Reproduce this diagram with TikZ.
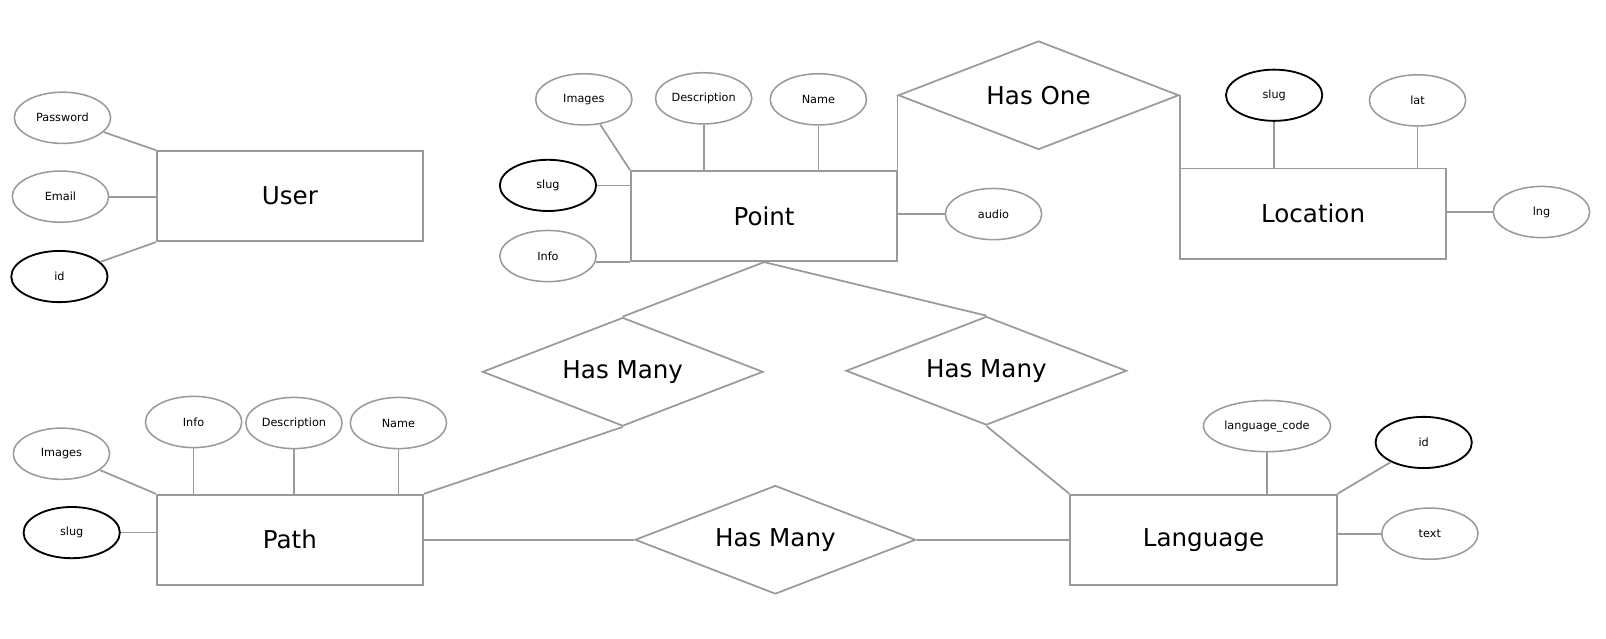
\documentclass[tikz,border=0pt]{standalone}
\usepackage{fontspec}
\setmainfont{DejaVu Sans}
\usetikzlibrary{shapes.geometric}
\definecolor{lg}{HTML}{9A9A9A}
\begin{document}
\begin{tikzpicture}[x=1pt,y=-1pt,
 ln/.style={draw=lg, line width=1.7pt},
 ent/.style={rectangle, draw=lg, line width=1.8pt, minimum width=260pt, minimum height=88pt, inner sep=0pt, font=\fontsize{24}{28}\selectfont},
 attr/.style={ellipse, draw=lg, line width=1.5pt, minimum width=94pt, minimum height=50pt, inner sep=0pt, font=\fontsize{11}{13}\selectfont},
 keyattr/.style={attr, draw=black, line width=1.8pt},
 rel/.style={diamond, aspect=2.58, draw=lg, line width=1.7pt, minimum width=274pt, minimum height=106pt, inner sep=0pt, font=\fontsize{24}{28}\selectfont}]
\useasboundingbox (0,0) rectangle (1568,623);

% User
\node[ent] (U) at (283,191.5) {User};
\node[attr] (Upw) at (61,115) {Password};
\node[attr] (Uem) at (59,192) {Email};
\node[keyattr] (Uid) at (58,270) {id};
\draw[ln] (Upw) -- (U.north west);
\draw[ln] (Uem.east) -- (Uem.east -| U.west);
\draw[ln] (Uid) -- (U.south west);

% Point
\node[ent] (P) at (746,211) {Point};
\node[attr] (Pim) at (570,97) {Images};
\node[attr] (Pde) at (687,96) {Description};
\node[attr] (Pna) at (799,97) {Name};
\node[keyattr] (Psl) at (535,181) {slug};
\node[attr] (Pin) at (535,250) {Info};
\node[attr] (Pau) at (970,209) {audio};
\draw[ln] (Pim) -- (P.north west);
\draw[ln] (Pde.south) -- (Pde.south |- P.north);
\draw[ln] (Pna.south) -- (Pna.south |- P.north);
\draw[ln] (Psl.east) -- (Psl.east -| P.west);
\draw[ln] (P.south west) -- ([xshift=-1pt]P.south west -| Pin.east);
\draw[ln] (P.east |- Pau.west) -- (Pau.west);

% Has One
\node[rel] (HO) at (1014,93) {Has One};
\draw[ln] (HO.west) -- (HO.west |- P.north east);

% Location
\node[ent] (L) at (1282,208.5) {Location};
\node[keyattr] (Lsl) at (1244,93) {slug};
\node[attr] (Lla) at (1384,98) {lat};
\node[attr] (Lln) at (1505,207) {lng};
\draw[ln] (HO.east) -- (HO.east |- L.north west);
\draw[ln] (Lsl.south) -- (Lsl.south |- L.north);
\draw[ln] (Lla.south) -- (Lla.south |- L.north);
\draw[ln] (L.east |- Lln.west) -- (Lln.west);

% Relationships
\node[rel] (HM1) at (608,363) {Has Many};
\node[rel] (HM2) at (963,362) {Has Many};
\node[rel] (HM3) at (757,527) {Has Many};

% Path
\node[ent] (Pa) at (283,527) {Path};
\node[attr] (Paim) at (60,443) {Images};
\node[attr] (Pain) at (189,412) {Info};
\node[attr] (Pade) at (287,413) {Description};
\node[attr] (Pana) at (389,413) {Name};
\node[keyattr] (Pasl) at (70,520) {slug};
\draw[ln] (Paim) -- (Pa.north west);
\draw[ln] (Pain.south) -- (Pain.south |- Pa.north);
\draw[ln] (Pade.south) -- (Pade.south |- Pa.north);
\draw[ln] (Pana.south) -- (Pana.south |- Pa.north);
\draw[ln] (Pasl.east) -- (Pasl.east -| Pa.west);

% Language
\node[ent] (La) at (1175,527) {Language};
\node[attr, minimum width=124pt] (Lac) at (1237,416) {language\_code};
\node[keyattr] (Laid) at (1390,432) {id};
\node[attr] (Late) at (1396,521) {text};
\draw[ln] (Lac.south) -- (Lac.south |- La.north);
\draw[ln] (Laid) -- (La.north east);
\draw[ln] (La.east |- Late.west) -- (Late.west);

% Relationship connectors
\draw[ln] (P.south) -- (HM1.north);
\draw[ln] (P.south) -- (HM2.north);
\draw[ln] (HM1.south) -- (Pa.north east);
\draw[ln] (HM2.south) -- (La.north west);
\draw[ln] (Pa.east) -- (HM3.west);
\draw[ln] (HM3.east) -- (La.west);
\end{tikzpicture}
\end{document}
